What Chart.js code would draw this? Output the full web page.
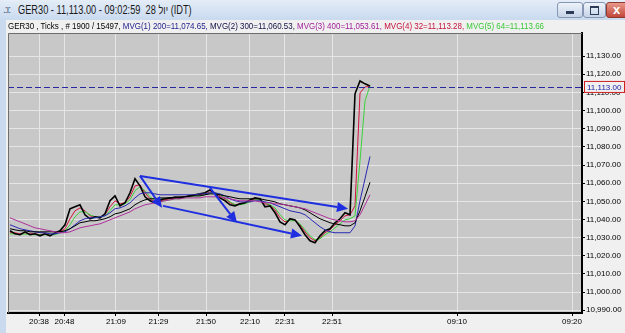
<!DOCTYPE html>
<html>
<head>
<meta charset="utf-8">
<script src="https://cdn.jsdelivr.net/npm/chart.js@4"></script>
<style>
  html, body { margin: 0; padding: 0; }
  body { width: 625px; height: 333px; overflow: hidden; background: #f0f0f0; position: relative;
         font-family: "Liberation Sans", "DejaVu Sans", sans-serif; }
  #c { position: absolute; left: 0; top: 0; }
  #titlebar { position: absolute; left: 0; top: 0; width: 625px; height: 20px;
              background: linear-gradient(#e4edf8, #c9daef); }
  #title { position: absolute; left: 18px; top: 3px; font-size: 12px; color: #1b1b1b; white-space: nowrap; transform-origin: 0 0; }
  #icon { position: absolute; left: 3px; top: 4px; font-size: 10px; color: #4a5a78; letter-spacing: -1px; }
  #lborder { position: absolute; left: 0; top: 20px; width: 6px; height: 313px; background: #c9daef; }
  .btn { position: absolute; top: 2px; height: 14px; border: 1px solid #8797b3; border-radius: 3px;
         background: linear-gradient(#eef3fa, #c6d4e9); }
  #bmin { left: 557px; width: 24px; }
  #bmax { left: 583px; width: 21px; }
  #bclose { left: 606px; width: 22px; background: linear-gradient(#e9998a, #c2473a); border-color: #8d3a30; }
  #bmin i { position: absolute; left: 8px; top: 8px; width: 8px; height: 3px; background: #2c3b58; }
  #bmax i { position: absolute; left: 6px; top: 3px; width: 7px; height: 6px; border: 1px solid #2c3b58; border-top-width: 2px; }
  #bclose i { position: absolute; left: 6px; top: -1px; color: #fff; font-weight: bold; font-size: 13px; font-style: normal; }
  #header { position: absolute; left: 8px; top: 21px; font-size: 9px; white-space: nowrap; transform-origin: 0 0; }
</style>
</head>
<body>
<canvas id="c" width="625" height="333"></canvas>
<div id="titlebar">
  <span id="icon">.:ı:</span>
  <span id="title">GER30 - 11,113.00 - 09:02:59&nbsp; 28 <bdi>יול</bdi> (IDT)</span>
  <div class="btn" id="bmin"><i></i></div>
  <div class="btn" id="bmax"><i></i></div>
  <div class="btn" id="bclose"><i>x</i></div>
</div>
<div id="lborder"></div>
<div id="header"><span style="color:#000">GER30 , Ticks , # 1900 / 15497, </span><span style="color:#1c1c8c">MVG(1) 200=11,074.65, </span><span style="color:#101048">MVG(2) 300=11,060.53, </span><span style="color:#a0209a">MVG(3) 400=11,053.61, </span><span style="color:#c4103c">MVG(4) 32=11,113.28, </span><span style="color:#38c838">MVG(5) 64=11,113.66</span></div>

<script>
// tick chart, one sample every few ticks
const price = [
  11033.8, 11032.1, 11031.6, 11033.2, 11031.6, 11032.1, 11031.0, 11032.1, 11031.0, 11032.6,
  11033.8, 11037.1, 11045.9, 11047.0, 11048.1, 11042.6, 11040.4, 11041.5, 11040.9, 11043.1,
  11050.3, 11053.0, 11047.5, 11049.2, 11054.7, 11062.4, 11058.5, 11052.5, 11050.3, 11049.2,
  11050.8, 11051.4, 11051.9, 11051.9, 11051.9, 11052.5, 11053.0, 11053.6, 11054.1, 11054.7,
  11056.3, 11054.1, 11051.9, 11050.3, 11048.1, 11047.5, 11048.6, 11049.2, 11050.8, 11051.9,
  11051.4, 11047.0, 11047.5, 11043.7, 11038.7, 11037.1, 11040.4, 11039.8, 11036.0, 11031.6,
  11028.3, 11027.2, 11031.0, 11033.8, 11034.9, 11038.2, 11040.4, 11043.7, 11042.6, 11109.2,
  11116.3, 11114.7, 11113.5
];
const mvg32 = [
  11032.7, 11032.7, 11032.1, 11032.7, 11032.1, 11032.1, 11031.6, 11032.1, 11031.6, 11032.1,
  11033.2, 11034.9, 11040.4, 11044.8, 11046.4, 11044.8, 11042.0, 11041.5, 11041.5, 11042.6,
  11047.0, 11050.3, 11048.6, 11049.2, 11052.5, 11058.5, 11059.1, 11054.7, 11051.4, 11049.7,
  11050.3, 11050.8, 11051.4, 11051.9, 11051.9, 11052.5, 11053.0, 11053.6, 11053.6, 11054.1,
  11055.2, 11054.7, 11053.0, 11051.4, 11049.2, 11048.1, 11048.6, 11049.2, 11050.3, 11051.4,
  11051.4, 11048.6, 11048.1, 11045.3, 11040.9, 11038.7, 11039.8, 11039.8, 11037.1, 11033.2,
  11029.9, 11028.3, 11029.9, 11032.7, 11034.3, 11037.1, 11039.3, 11042.0, 11042.6, 11047.5,
  11109.7, 11113.0, 11113.3
];
const mvg64 = [
  11032.1, 11032.1, 11031.6, 11032.1, 11031.6, 11031.6, 11031.6, 11031.6, 11031.6, 11031.6,
  11032.7, 11033.8, 11037.1, 11041.5, 11044.2, 11044.2, 11042.6, 11041.5, 11041.5, 11042.0,
  11044.8, 11048.1, 11048.1, 11048.6, 11050.8, 11055.8, 11058.0, 11055.8, 11052.5, 11050.3,
  11049.7, 11050.3, 11050.8, 11051.4, 11051.4, 11051.9, 11052.5, 11053.0, 11053.0, 11053.6,
  11054.7, 11054.7, 11053.6, 11051.9, 11049.7, 11048.1, 11048.1, 11048.6, 11049.7, 11050.8,
  11050.8, 11049.2, 11048.1, 11046.4, 11042.6, 11039.8, 11039.3, 11039.3, 11037.6, 11034.3,
  11031.0, 11028.8, 11029.4, 11031.6, 11033.2, 11035.4, 11037.6, 11039.8, 11040.4, 11042.0,
  11072.3, 11105.3, 11113.7
];
const mvg200 = [
  11037.1, 11036.0, 11034.9, 11034.3, 11033.8, 11033.2, 11032.7, 11032.7, 11032.1, 11032.1,
  11032.7, 11033.2, 11034.9, 11037.1, 11039.3, 11040.4, 11040.9, 11040.9, 11041.5, 11042.0,
  11043.7, 11045.9, 11046.4, 11047.5, 11049.2, 11051.9, 11054.1, 11054.7, 11054.7, 11054.1,
  11053.6, 11053.6, 11053.6, 11053.6, 11053.6, 11053.6, 11053.6, 11053.6, 11054.1, 11054.1,
  11054.7, 11054.7, 11054.1, 11053.0, 11051.4, 11050.3, 11049.7, 11049.7, 11049.7, 11050.3,
  11050.3, 11049.7, 11049.2, 11048.1, 11047.0, 11045.9, 11044.8, 11044.2, 11043.7, 11042.6,
  11040.4, 11038.2, 11036.0, 11034.3, 11033.2, 11032.7, 11032.7, 11032.7, 11032.7, 11036.5,
  11050.3, 11062.4, 11074.7
];
const mvg300 = [
  11034.9, 11034.3, 11033.8, 11033.8, 11033.2, 11033.2, 11033.2, 11033.2, 11033.2, 11033.2,
  11033.2, 11033.8, 11034.9, 11036.5, 11038.2, 11038.7, 11039.3, 11039.3, 11039.8, 11040.4,
  11041.5, 11043.1, 11043.7, 11044.8, 11045.9, 11048.1, 11049.7, 11050.8, 11051.4, 11051.4,
  11051.9, 11051.9, 11051.9, 11052.5, 11052.5, 11052.5, 11053.0, 11053.0, 11053.0, 11053.6,
  11054.1, 11054.1, 11053.6, 11053.0, 11052.5, 11051.9, 11051.4, 11051.4, 11051.4, 11051.4,
  11051.4, 11050.8, 11050.3, 11049.7, 11048.6, 11048.1, 11047.5, 11047.0, 11046.4, 11045.3,
  11043.7, 11042.0, 11040.4, 11039.3, 11038.2, 11037.6, 11037.1, 11036.5, 11036.5, 11038.2,
  11044.8, 11052.5, 11060.5
];
const mvg400 = [
  11040.9, 11039.8, 11038.7, 11037.6, 11036.5, 11035.4, 11034.9, 11034.3, 11033.8, 11033.2,
  11032.7, 11032.7, 11033.2, 11034.3, 11035.4, 11036.0, 11036.5, 11037.1, 11037.6, 11038.7,
  11039.8, 11040.9, 11042.0, 11043.1, 11044.2, 11045.9, 11047.0, 11048.1, 11048.6, 11049.2,
  11049.7, 11050.3, 11050.8, 11051.4, 11051.4, 11051.9, 11051.9, 11051.9, 11051.9, 11052.5,
  11052.5, 11052.5, 11052.5, 11051.9, 11051.4, 11050.8, 11050.3, 11050.3, 11050.3, 11050.3,
  11049.7, 11049.2, 11049.2, 11048.6, 11048.6, 11048.1, 11047.5, 11047.0, 11046.4, 11045.9,
  11044.8, 11043.7, 11042.6, 11041.5, 11040.4, 11039.8, 11039.3, 11038.7, 11038.7, 11039.3,
  11042.6, 11048.0, 11053.6
];

// time labels on the tick axis (sample index where each sits)
const timeTickPos = [5.8, 10.9, 21.2, 29.7, 39.2, 48, 55, 64.4, 89.4, 112.4];
const timeTickLabels = ["20:38", "20:48", "21:09", "21:29", "21:50", "22:10", "22:31", "22:51", "09:10", "09:20"];
const priceTicks = [10990, 11000, 11010, 11020, 11030, 11040, 11050, 11060, 11070, 11080, 11090, 11100, 11110, 11120, 11130];
const lastPrice = 11113;

// hand drawn arrows: [fromIndex, fromPrice, toIndex, toPrice]
const arrows = [
  [26, 11064.0, 67.6, 11045.9],
  [30.6, 11047.5, 58.4, 11031.0],
  [26, 11064.0, 30.4, 11046.4],
  [40, 11057.4, 45.4, 11038.2]
];

const FONT = "'Liberation Sans', 'DejaVu Sans', sans-serif";
const fmt = v => v.toLocaleString("en-US", { minimumFractionDigits: 2, maximumFractionDigits: 2 });
const pts = arr => arr.map((v, i) => ({ x: i, y: v }));

function line(label, arr, color, width) {
  return { label, data: pts(arr), borderColor: color, borderWidth: width || 1, pointRadius: 0, fill: false };
}

const bgPlugin = {
  id: "bg",
  beforeDraw(chart) {
    const { ctx, chartArea: a } = chart;
    ctx.save();
    ctx.fillStyle = "#c8c8c8";
    ctx.fillRect(a.left, a.top, a.right - a.left, a.bottom - a.top);
    ctx.restore();
  }
};

const overlay = {
  id: "overlay",
  afterDatasetsDraw(chart) {
    const { ctx, chartArea: a, scales: { x, y } } = chart;
    ctx.save();
    // last price line
    ctx.strokeStyle = "#2828a0";
    ctx.lineWidth = 1;
    ctx.setLineDash([6, 3]);
    const ly = Math.round(y.getPixelForValue(lastPrice)) + 0.5;
    ctx.beginPath();
    ctx.moveTo(a.left, ly);
    ctx.lineTo(a.right, ly);
    ctx.stroke();
    ctx.setLineDash([]);

    // arrows
    ctx.strokeStyle = "#1f2fe0";
    ctx.fillStyle = "#1f2fe0";
    ctx.lineWidth = 2;
    arrows.forEach(([i1, p1, i2, p2]) => {
      const x1 = x.getPixelForValue(i1), y1 = y.getPixelForValue(p1);
      const x2 = x.getPixelForValue(i2), y2 = y.getPixelForValue(p2);
      const ang = Math.atan2(y2 - y1, x2 - x1);
      const len = 11, half = 5;
      const bx = x2 - Math.cos(ang) * len, by = y2 - Math.sin(ang) * len;
      ctx.beginPath();
      ctx.moveTo(x1, y1);
      ctx.lineTo(bx, by);
      ctx.stroke();
      ctx.beginPath();
      ctx.moveTo(x2, y2);
      ctx.lineTo(bx + Math.sin(ang) * half, by - Math.cos(ang) * half);
      ctx.lineTo(bx - Math.sin(ang) * half, by + Math.cos(ang) * half);
      ctx.closePath();
      ctx.fill();
    });

    // thin frame on left and top
    ctx.strokeStyle = "#6e6e6e";
    ctx.lineWidth = 1;
    ctx.beginPath();
    ctx.moveTo(a.left + 0.5, a.bottom);
    ctx.lineTo(a.left + 0.5, a.top + 0.5);
    ctx.lineTo(a.right, a.top + 0.5);
    ctx.stroke();
    ctx.restore();
  },
  afterDraw(chart) {
    const { ctx, chartArea: a, scales: { y } } = chart;
    const py = y.getPixelForValue(lastPrice);
    ctx.save();
    ctx.fillStyle = "#f0f0f0";
    ctx.fillRect(a.right + 2, py - 6, 40, 12);
    ctx.strokeStyle = "#d02020";
    ctx.lineWidth = 1;
    ctx.strokeRect(a.right + 2.5, py - 5.5, 40, 11);
    ctx.fillStyle = "#2020a8";
    ctx.font = "8px " + FONT;
    ctx.textBaseline = "middle";
    ctx.fillText(fmt(lastPrice), a.right + 5, py + 0.5);
    ctx.restore();
  }
};

new Chart(document.getElementById("c"), {
  type: "line",
  data: {
    datasets: [
      line("MVG(3) 400", mvg400, "#b0309c"),
      line("MVG(2) 300", mvg300, "#000000"),
      line("MVG(1) 200", mvg200, "#2a2ab4"),
      line("Price", price, "#000000", 1.6),
      line("MVG(5) 64", mvg64, "#3cd23c"),
      line("MVG(4) 32", mvg32, "#d2143c")
    ]
  },
  options: {
    responsive: false,
    animation: false,
    layout: { padding: { left: 8, top: 33, right: 0, bottom: 0 } },
    plugins: { legend: { display: false }, tooltip: { enabled: false } },
    elements: { line: { tension: 0 }, point: { radius: 0 } },
    scales: {
      x: {
        type: "linear",
        min: -0.4,
        max: 114.4,
        afterBuildTicks: s => { s.ticks = timeTickPos.map(v => ({ value: v })); },
        afterFit: s => { s.height = 20; },
        ticks: {
          autoSkip: false, maxRotation: 0, padding: 1, color: "#000",
          font: { size: 8, family: FONT },
          callback: v => timeTickLabels[timeTickPos.indexOf(v)]
        },
        grid: { color: "#e6e6e6", tickColor: "#000", tickLength: 3 },
        border: { color: "#000", width: 2 }
      },
      y: {
        position: "right",
        min: 10988.5,
        max: 11142.7,
        afterBuildTicks: s => { s.ticks = priceTicks.map(v => ({ value: v })); },
        afterFit: s => { s.width = 43; },
        ticks: {
          padding: 1, color: "#000",
          font: { size: 8, family: FONT },
          callback: v => fmt(v)
        },
        grid: { color: "#e6e6e6", tickColor: "#000", tickLength: 3 },
        border: { color: "#000", width: 2 }
      }
    }
  },
  plugins: [bgPlugin, overlay]
});

// squeeze the info line and the caption to the widths they have in the terminal
const hdr = document.getElementById("header");
hdr.style.transform = "scaleX(" + (536 / hdr.scrollWidth) + ")";
const ttl = document.getElementById("title");
ttl.style.transform = "scaleX(" + (174 / ttl.scrollWidth) + ")";
</script>
</body>
</html>
